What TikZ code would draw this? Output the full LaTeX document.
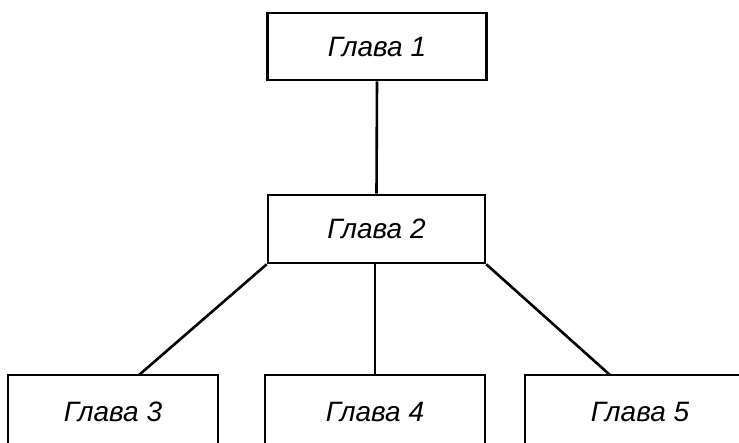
\documentclass[tikz,border=0pt]{standalone}
\usepackage{fontspec}
\setmainfont{Liberation Sans}
\begin{document}
\begin{tikzpicture}[x=1pt,y=-1pt,
  chap/.style={draw=black,line width=2.6pt,rectangle,minimum width=219pt,inner sep=0pt,
    font=\fontsize{28}{32}\selectfont\itshape},
  link/.style={draw=black,line width=2.6pt}]
\useasboundingbox (0,0) rectangle (739,442);
\clip (0,0) rectangle (739,442);
\fill[white] (0,0) rectangle (739,442);
\node[chap,minimum height=67pt] (g1) at (377,46.5) {Глава 1};
\node[chap,minimum height=68pt,minimum width=217pt] (g2) at (376.5,229) {Глава 2};
\node[chap,minimum height=74pt,minimum width=210pt] (g3) at (113,412) {Глава 3};
\node[chap,minimum height=74pt,minimum width=220pt] (g4) at (375,412) {Глава 4};
\node[chap,minimum height=74pt,minimum width=230pt] (g5) at (640,412) {Глава 5};
\coordinate (t3) at (139,375);
\coordinate (t5) at (610,375);
\draw[link] (g1.south) -- (g2.north);
\draw[link] (g2.south west) -- (t3);
\draw[link] (g2.south -| g4.north) -- (g4.north);
\draw[link] (g2.south east) -- (t5);
\end{tikzpicture}
\end{document}
